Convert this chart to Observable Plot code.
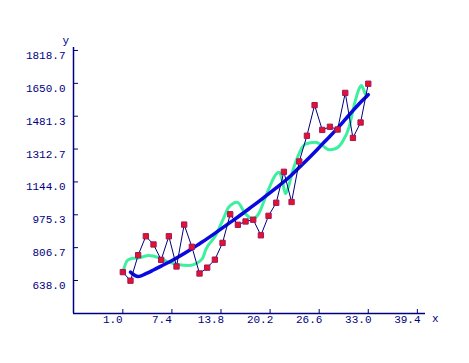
<!DOCTYPE html>
<html><head><meta charset="utf-8">
<script src="https://cdn.jsdelivr.net/npm/d3@7"></script>
<script src="https://cdn.jsdelivr.net/npm/@observablehq/plot@0.6"></script>
<style>body{margin:0;background:#fff}</style>
</head><body><div id="chart"></div>
<script>
// observed data points (x = 1..33)
const pointX = [1,2,3,4,5,6,7,8,9,10,11,12,13,14,15,16,17,18,19,20,21,22,23,24,25,26,27,28,29,30,31,32,33];
const pointY = [681,637,768,865,823,744,865,710,925,811,674,704,745,831,978,924,941,950,870,970,1037,1196,1041,1249,1381,1538,1411,1427,1413,1601,1370,1449,1648];

// green smoothed curve
const greenX = [1.0,1.6,2.3,3.1,4.4,5.7,7.0,8.3,9.6,10.5,11.4,11.8,13.1,14.2,14.8,15.9,17.0,17.9,18.7,19.6,20.5,21.0,21.4,21.8,22.2,22.6,23.1,23.7,24.4,24.8,26.1,27.0,27.9,28.7,29.6,30.5,31.1,31.8,32.1,32.6,32.8];
const greenY = [681,741,752,755,766,755,732,719,715,724,752,795,869,963,1014,1040,980,955,980,1066,1151,1185,1194,1150,1083,1120,1194,1263,1322,1338,1348,1331,1309,1314,1348,1425,1528,1622,1639,1596,1580];

// blue fitted curve
const blueX = [2,3,4,5,6,7,8,9,10,11,12,13,14,15,16,17,18,19,20,21,22,23,24,25,26,27,28,29,30,31,32,33];
const blueY = [681,658,673,692,712,732,754,777,801,827,853,880,908,936,964,993,1022,1052,1083,1114,1145,1180,1218,1256,1296,1338,1378,1420,1465,1510,1553,1592];

// axes
const xTicks = [1.0,7.4,13.8,20.2,26.6,33.0,39.4];
const xTickLabels = ["1.0","7.4","13.8","20.2","26.6","33.0","39.4"];
const yTicks = [638.0,806.7,975.3,1144.0,1312.7,1481.3,1650.0,1818.7];
const yTickLabels = ["638.0","806.7","975.3","1144.0","1312.7","1481.3","1650.0","1818.7"];
const xDomain = [-5.43, 40.46];
const yDomain = [468.6, 1834];

const points = pointX.map((x, i) => ({x, y: pointY[i]}));
const green = greenX.map((x, i) => ({x, y: greenY[i]}));
const blue = blueX.map((x, i) => ({x, y: blueY[i]}));

const navy = "#000080";
const chart = Plot.plot({
  width: 469, height: 363,
  marginLeft: 73, marginRight: 44, marginTop: 47, marginBottom: 50,
  x: {domain: xDomain},
  y: {domain: yDomain},
  style: {fontFamily: "'Liberation Mono', monospace", fontSize: "11px", color: navy, background: "#fff"},
  marks: [
    Plot.ruleX([xDomain[0]], {stroke: navy, strokeWidth: 1.5}),
    Plot.ruleY([yDomain[0]], {stroke: navy, strokeWidth: 1.5}),
    Plot.axisY(yTicks, {tickSize: -5, tickFormat: () => "", label: null, stroke: navy}),
    Plot.axisY(yTicks, {tickSize: 0, tickPadding: 8, dy: 5, tickFormat: d => yTickLabels[yTicks.indexOf(d)], label: null, fill: navy}),
    Plot.axisX(xTicks, {tickSize: -4, tickFormat: () => "", label: null, stroke: navy}),
    Plot.axisX(xTicks, {tickSize: 0, tickPadding: 2, dx: -10, tickFormat: d => xTickLabels[xTicks.indexOf(d)], label: null, fill: navy}),
    Plot.text(["y"], {frameAnchor: "top-left", dx: -11, dy: -11, fill: navy}),
    Plot.text(["x"], {frameAnchor: "bottom-right", dx: 13, dy: 8, fill: navy}),
    Plot.line(green, {x: "x", y: "y", stroke: "#3cf0a0", strokeWidth: 3, curve: "monotone-x"}),
    Plot.line(blue, {x: "x", y: "y", stroke: "#0a0ae0", strokeWidth: 3.5, curve: "monotone-x"}),
    Plot.line(points, {x: "x", y: "y", stroke: navy, strokeWidth: 1}),
    Plot.dot(points, {x: "x", y: "y", symbol: "square", r: 3, fill: "#e8102a", stroke: "#9a1a60", strokeWidth: 1})
  ]
});
document.getElementById("chart").append(chart);
</script>
</body></html>
